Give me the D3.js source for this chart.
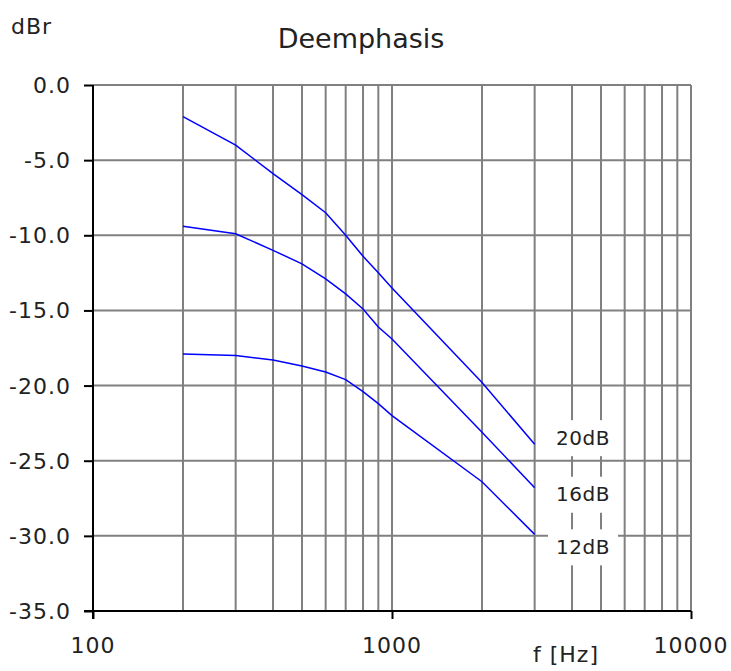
<!DOCTYPE html>
<html>
<head>
<meta charset="utf-8">
<script src="https://cdn.jsdelivr.net/npm/d3@7"></script>
<style>
  html, body { margin: 0; padding: 0; background: #fff; }
  svg { display: block; }
  text { font-family: "DejaVu Sans", Verdana, sans-serif; fill: #222; }
</style>
</head>
<body>
<svg id="chart" width="731" height="671"></svg>
<script>
// ---- data ----
const freqs = [200, 300, 400, 500, 600, 700, 800, 900, 1000, 2000, 3000];
const s20 = [-2.1, -4.0, -5.9, -7.3, -8.5, -10.0, -11.4, -12.5, -13.5, -19.8, -23.9];
const s16 = [-9.4, -9.9, -11.0, -11.9, -12.9, -13.9, -14.9, -16.1, -16.9, -23.1, -26.8];
const s12 = [-17.9, -18.0, -18.3, -18.7, -19.1, -19.6, -20.4, -21.2, -22.0, -26.4, -29.9];
const seriesNames = ["20dB", "16dB", "12dB"];
const yTicks = [0, -5, -10, -15, -20, -25, -30, -35];
const xMajor = [100, 1000, 10000];
const xMinor = [200, 300, 400, 500, 600, 700, 800, 900, 2000, 3000, 4000, 5000, 6000, 7000, 8000, 9000];
const title = "Deemphasis";
const yUnit = "dBr";
const xUnit = "f [Hz]";

// ---- layout ----
const svg = d3.select("#chart");
const x = d3.scaleLog().domain([100, 10000]).range([93, 691]);
const y = d3.scaleLinear().domain([-35, 0]).range([611, 85]);
const gridColor = "#808080";
const fmtY = d => d3.format(".1f")(d).replace("\u2212", "-");

// grid: vertical
svg.append("g").selectAll("line").data(xMinor.concat([1000, 10000])).join("line")
  .attr("x1", d => x(d)).attr("x2", d => x(d))
  .attr("y1", y(0)).attr("y2", y(-35))
  .attr("stroke", gridColor).attr("stroke-width", 2);
// grid: horizontal
svg.append("g").selectAll("line").data(yTicks.filter(d => d !== -35)).join("line")
  .attr("x1", x(100)).attr("x2", x(10000))
  .attr("y1", d => y(d)).attr("y2", d => y(d))
  .attr("stroke", gridColor).attr("stroke-width", 2);

// axes
const yAxis = d3.axisLeft(y).tickValues(yTicks).tickSize(9).tickFormat(fmtY);
const gy = svg.append("g").attr("transform", `translate(${x(100)},0)`).call(yAxis);
gy.select(".domain").remove();
gy.selectAll(".tick line").attr("stroke", "#000").attr("stroke-width", 2);
gy.selectAll(".tick text").remove();
svg.append("line").attr("x1", x(100)).attr("x2", x(100)).attr("y1", y(0)).attr("y2", y(-35) + 8)
  .attr("stroke", "#000").attr("stroke-width", 2);

const xAxis = d3.axisBottom(x).tickValues(xMajor).tickSize(8).tickFormat(d3.format("d"));
const gx = svg.append("g").attr("transform", `translate(0,${y(-35)})`).call(xAxis);
gx.select(".domain").remove();
gx.selectAll(".tick line").attr("stroke", "#000").attr("stroke-width", 2);
gx.selectAll(".tick text").remove();
svg.append("line").attr("x1", x(100) - 9).attr("x2", x(10000)).attr("y1", y(-35)).attr("y2", y(-35))
  .attr("stroke", "#000").attr("stroke-width", 2);

// tick labels
svg.append("g").selectAll("text").data(yTicks).join("text")
  .attr("x", 71).attr("y", d => y(d) + 8)
  .attr("text-anchor", "end")
  .style("font-size", "22px").style("letter-spacing", "1px")
  .text(fmtY);
svg.append("g").selectAll("text").data(xMajor).join("text")
  .attr("x", d => x(d)).attr("y", 653)
  .attr("text-anchor", "middle")
  .style("font-size", "22px").style("letter-spacing", "1px")
  .text(d => d3.format("d")(d));

// titles
svg.append("text").attr("x", 361).attr("y", 48).attr("text-anchor", "middle")
  .style("font-size", "27px").text(title);
svg.append("text").attr("x", 11).attr("y", 34)
  .style("font-size", "22px").style("letter-spacing", "1px").text(yUnit);
svg.append("text").attr("x", 533).attr("y", 662)
  .style("font-size", "22px").style("letter-spacing", "1px").text(xUnit);

// curves
const series = [s20, s16, s12];
const line = d3.line().x((d, i) => x(freqs[i])).y(d => y(d));
svg.append("g").selectAll("path").data(series).join("path")
  .attr("d", d => line(d))
  .attr("fill", "none").attr("stroke", "#0000ff").attr("stroke-width", 1.5);

// series labels with white boxes
const labelOffsets = [-7, 6, 12];
const lg = svg.append("g");
series.forEach((s, i) => {
  const cy = y(s[s.length - 1]) + labelOffsets[i];
  lg.append("rect").attr("x", 548).attr("y", cy - 17).attr("width", 70).attr("height", 36)
    .attr("fill", "#fff");
  lg.append("text").attr("x", 583).attr("y", cy + 7.5).attr("text-anchor", "middle")
    .style("font-size", "20px").style("letter-spacing", "0.5px").text(seriesNames[i]);
});
</script>
</body>
</html>
